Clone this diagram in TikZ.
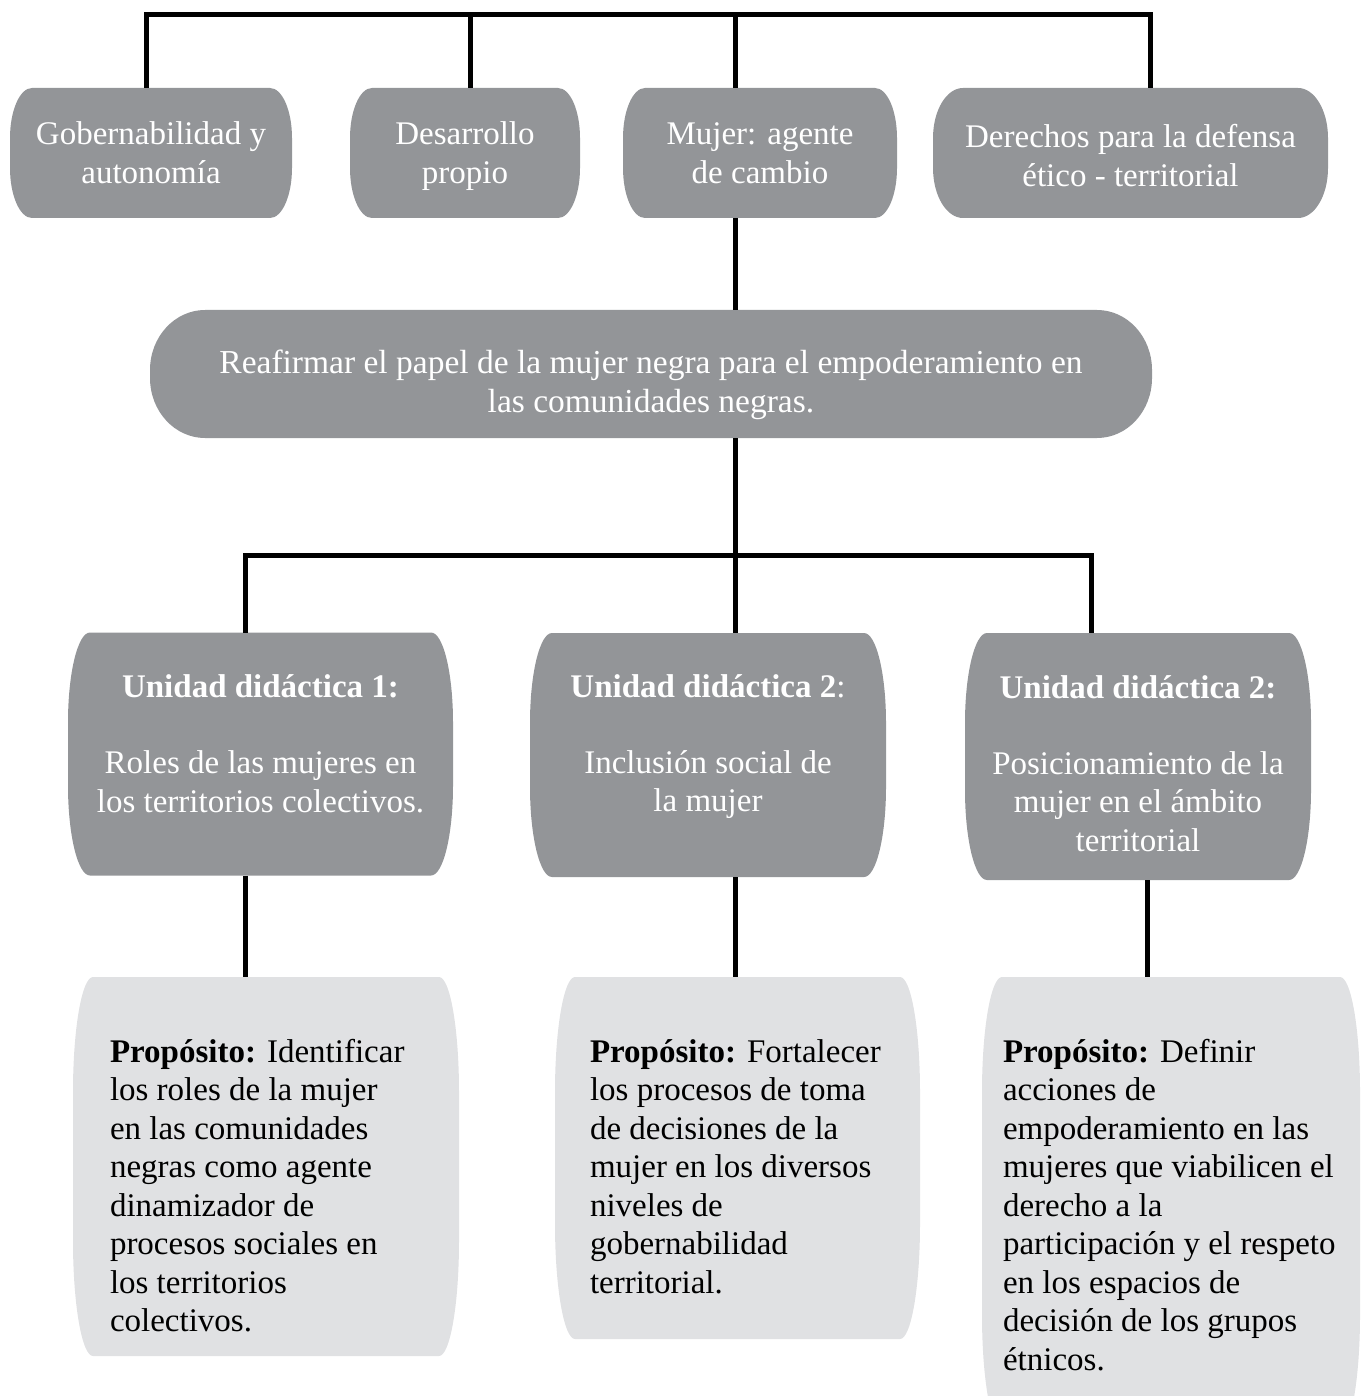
\documentclass[tikz,border=0pt]{standalone}
\usepackage{fontspec}
\setmainfont{Liberation Serif}
\usetikzlibrary{backgrounds}
\definecolor{boxdark}{RGB}{147,149,152}
\definecolor{boxlight}{RGB}{224,225,227}
% barrel-shaped box behind a named node: node, x radius, y radius, colour
\newcommand\barrelfill[4]{%
  \fill[#4] ([xshift=#2]#1.north west) -- ([xshift=-#2]#1.north east)
    arc[start angle=90,end angle=0,x radius=#2,y radius=#3]
    -- ([yshift=#3]#1.south east)
    arc[start angle=0,end angle=-90,x radius=#2,y radius=#3]
    -- ([xshift=#2]#1.south west)
    arc[start angle=270,end angle=180,x radius=#2,y radius=#3]
    -- ([yshift=-#3]#1.north west)
    arc[start angle=180,end angle=90,x radius=#2,y radius=#3] -- cycle;}
% text block: width, height, first baseline from top, alignment, content
\newcommand\boxtext[5]{\parbox[c][#2pt][t]{#1pt}{#4\rule{0pt}{#3pt}#5}}
\begin{document}
\begin{tikzpicture}[x=1pt,y=-1pt,
  conn/.style={line width=5pt},
  darkbox/.style={inner sep=0pt,outer sep=0pt,text=white,font=\fontsize{33}{38.5}\selectfont},
  midfont/.style={font=\fontsize{33.5}{39.5}\selectfont},
  lightbox/.style={inner sep=0pt,outer sep=0pt,text=black,font=\fontsize{33}{38.5}\selectfont}]
\useasboundingbox (0,0) rectangle (1363,1396);
\clip (0,0) rectangle (1363,1396);

% top row
\node[darkbox] (t1) at (151,153) {\boxtext{282}{130}{57}{\centering}{Gobernabilidad y\\autonomía}};
\node[darkbox] (t2) at (465,153) {\boxtext{230}{130}{57}{\centering}{Desarrollo\\propio}};
\node[darkbox] (t3) at (760,153) {\boxtext{274}{130}{57}{\centering}{Mujer: agente\\de cambio}};
\node[darkbox] (t4) at (1130.5,153) {\boxtext{395}{130}{60}{\centering}{Derechos para la defensa\\ético - territorial}};

% middle
\node[darkbox,midfont] (mid) at (651,374) {\boxtext{1002}{128}{63}{\centering}{Reafirmar el papel de la mujer negra para el empoderamiento en\\las comunidades negras.}};

% units
\node[darkbox] (u1) at (260.5,754) {\boxtext{385}{243}{65}{\centering}{\textbf{Unidad didáctica 1:}\\[37.5pt]Roles de las mujeres en\\los territorios colectivos.}};
\node[darkbox] (u2) at (708,755) {\boxtext{356}{244}{64}{\centering}{\textbf{Unidad didáctica 2}:\\[37.5pt]Inclusión social de\\la mujer}};
\node[darkbox] (u3) at (1138,756.5) {\boxtext{346}{247}{65}{\centering}{\textbf{Unidad didáctica 2:}\\[37.5pt]Posicionamiento de la\\mujer en el ámbito\\territorial}};

% purposes
\node[lightbox] (p1) at (266,1166.5) {\boxtext{386}{379}{85}{\raggedright\leftskip=37pt\relax}{\textbf{Propósito:} Identificar\\los roles de la mujer\\en las comunidades\\negras como agente\\dinamizador de\\procesos sociales en\\los territorios\\colectivos.}};
\node[lightbox] (p2) at (737.5,1158) {\boxtext{365}{362}{85}{\raggedright\leftskip=35pt\relax}{\textbf{Propósito:} Fortalecer\\los procesos de toma\\de decisiones de la\\mujer en los diversos\\niveles de\\gobernabilidad\\territorial.}};
\node[lightbox] (p3) at (1171,1203.5) {\boxtext{378}{453}{85}{\raggedright\leftskip=21pt\relax}{\textbf{Propósito:} Definir\\acciones de\\empoderamiento en las\\mujeres que viabilicen el\\derecho a la\\participación y el respeto\\en los espacios de\\decisión de los grupos\\étnicos.}};

\begin{pgfonlayer}{background}
\barrelfill{t1}{22pt}{50pt}{boxdark}
\barrelfill{t2}{22pt}{50pt}{boxdark}
\barrelfill{t3}{22pt}{50pt}{boxdark}
\barrelfill{t4}{30pt}{50pt}{boxdark}
\barrelfill{mid}{55pt}{60pt}{boxdark}
\barrelfill{u1}{22pt}{90pt}{boxdark}
\barrelfill{u2}{22pt}{90pt}{boxdark}
\barrelfill{u3}{22pt}{90pt}{boxdark}
\barrelfill{p1}{20pt}{115pt}{boxlight}
\barrelfill{p2}{20pt}{115pt}{boxlight}
\barrelfill{p3}{20pt}{115pt}{boxlight}
\end{pgfonlayer}

% connectors
\coordinate (tl) at (146,15);
\coordinate (tr) at (1150,15);
\coordinate (tm) at (735,15);
\coordinate (t2x) at (470,15);
\draw[conn] (tl |- t1.north) -- (tl) -- (tr) -- (tr |- t4.north);
\draw[conn] (t2x) -- (t2x |- t2.north);
\draw[conn] (tm) -- (tm |- t3.north);
\draw[conn] (tm |- t3.south) -- (tm |- mid.north);
\draw[conn] (tm |- mid.south) -- (tm |- u2.north);
\coordinate (bl) at (245,555);
\coordinate (br) at (1091,555);
\draw[conn] (bl |- u1.north) -- (bl) -- (br) -- (br |- u3.north);
\coordinate (r3) at (1147,0);
\draw[conn] (bl |- u1.south) -- (bl |- p1.north);
\draw[conn] (tm |- u2.south) -- (tm |- p2.north);
\draw[conn] (r3 |- u3.south) -- (r3 |- p3.north);
\end{tikzpicture}
\end{document}
